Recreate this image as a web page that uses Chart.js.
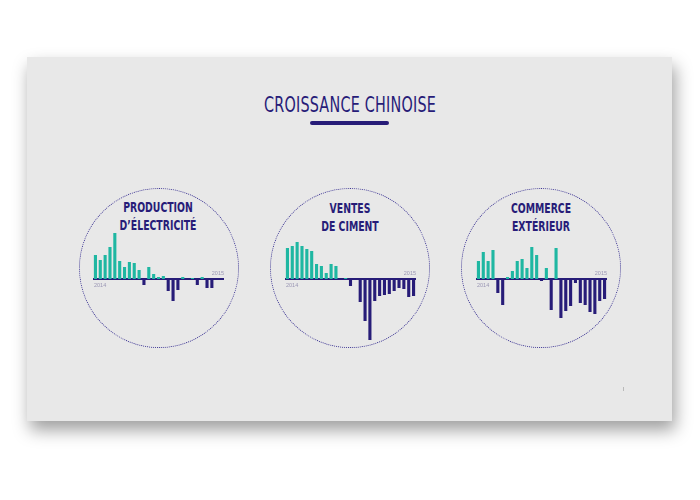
<!DOCTYPE html>
<html lang="fr">
<head>
    <meta charset="UTF-8">
    <title>Croissance chinoise</title>
    <script src="https://cdn.jsdelivr.net/npm/chart.js"></script>
    <style>
        body {
            margin: 0;
            width: 700px;
            height: 500px;
            background: #fff;
            position: relative;
            overflow: hidden;
            font-family: "Liberation Sans Narrow", "DejaVu Sans Condensed", sans-serif;
            color: #271c78;
        }

        .card {
            position: absolute;
            left: 27px;
            top: 57px;
            width: 645px;
            height: 364px;
            background: #e8e8e8;
            box-shadow: 3px 9px 16px rgba(0, 0, 0, 0.38);
        }

        .title {
            position: absolute;
            left: 0;
            top: 95px;
            width: 700px;
            text-align: center;
            font-size: 21px;
            line-height: 21px;
            letter-spacing: 0.3px;
            transform: scaleX(0.76);
        }

        .underline {
            position: absolute;
            left: 310px;
            top: 121px;
            width: 79px;
            height: 4px;
            border-radius: 2px;
            background: #271c78;
        }

        .circle {
            position: absolute;
            width: 158px;
            height: 158px;
            border: 1px dotted #3b3393;
            border-radius: 50%;
        }

        .ctitle {
            position: absolute;
            width: 160px;
            text-align: center;
            font-size: 14px;
            line-height: 18px;
            font-weight: bold;
            transform: scaleX(0.74);
        }

        .chart-box {
            position: absolute;
            width: 131px;
            height: 115px;
        }

        .mark {
            position: absolute;
            left: 623px;
            top: 387px;
            width: 1px;
            height: 4px;
            background: #b9b9b9;
        }
    </style>
</head>
<body>
    <div class="card"></div>
    <div class="title">CROISSANCE CHINOISE</div>
    <div class="underline"></div>

    <div class="circle" style="left:79px; top:188px;"></div>
    <div class="circle" style="left:270px; top:188px;"></div>
    <div class="circle" style="left:461px; top:188px;"></div>

    <div class="ctitle" style="left:78px; top:198px;">PRODUCTION<br>D’ÉLECTRICITÉ</div>
    <div class="ctitle" style="left:270px; top:199px;">VENTES<br>DE CIMENT</div>
    <div class="ctitle" style="left:461px; top:199px;">COMMERCE<br>EXTÉRIEUR</div>

    <div class="chart-box" style="left:93px; top:229px;"><canvas id="chartElec"></canvas></div>
    <div class="chart-box" style="left:285px; top:229px;"><canvas id="chartCiment"></canvas></div>
    <div class="chart-box" style="left:476px; top:229px;"><canvas id="chartCommerce"></canvas></div>

    <div class="mark"></div>

    <script>
        // 27 periods per chart (months, 2014 -> 2015)
        const periods = ["1", "2", "3", "4", "5", "6", "7", "8", "9", "10", "11", "12", "13", "14",
            "15", "16", "17", "18", "19", "20", "21", "22", "23", "24", "25", "26", "27"];
        const yearTicks = ["2014", "2015"];

        const electricite = [24, 19, 24, 32, 46, 18, 12, 17, 16, 9, -6, 12, 5, 2, 3, -12, -22, -11, 2, 0, 1, -6, 2, -9, -9, null, null];
        const ciment = [31, 33, 37, 33, 30, 28, 15, 13, 6, 15, 13, -1, 1, -7, -1, -23, -42, -61, -22, -17, -16, -15, -12, -9, -10, -18, -17];
        const commerce = [18, 27, 18, 29, -14, -26, 2, 8, 18, 20, 11, 32, 24, -2, 11, -31, 31, -39, -32, -27, -4, -24, -26, -33, -35, -22, -20];

        const TEAL = "#1fb7a2";
        const NAVY = "#271c78";

        const zeroAxis = {
            id: "zeroAxis",
            beforeDatasetsDraw(chart) {
                const { ctx, chartArea, scales } = chart;
                const y0 = scales.y.getPixelForValue(0);
                ctx.save();
                ctx.fillStyle = NAVY;
                ctx.fillRect(chartArea.left, y0 - 1, chartArea.width, 2);
                ctx.fillStyle = "#9a96b4";
                ctx.font = '5.5px "Liberation Sans", sans-serif';
                ctx.textAlign = "left";
                ctx.textBaseline = "top";
                ctx.fillText(yearTicks[0], chartArea.left + 1, y0 + 4);
                ctx.textAlign = "right";
                ctx.textBaseline = "bottom";
                ctx.fillText(yearTicks[1], chartArea.right, y0 - 3);
                ctx.restore();
            }
        };

        function makeChart(id, values) {
            new Chart(document.getElementById(id), {
                type: "bar",
                data: {
                    labels: periods,
                    datasets: [{
                        data: values,
                        backgroundColor: values.map(v => v >= 0 ? TEAL : NAVY),
                        categoryPercentage: 1,
                        barPercentage: 0.64
                    }]
                },
                options: {
                    responsive: true,
                    maintainAspectRatio: false,
                    animation: false,
                    layout: { padding: 0 },
                    plugins: {
                        legend: { display: false },
                        tooltip: { enabled: false }
                    },
                    scales: {
                        x: { display: false },
                        y: { display: false, min: -65, max: 50 }
                    }
                },
                plugins: [zeroAxis]
            });
        }

        makeChart("chartElec", electricite);
        makeChart("chartCiment", ciment);
        makeChart("chartCommerce", commerce);
    </script>
</body>
</html>
